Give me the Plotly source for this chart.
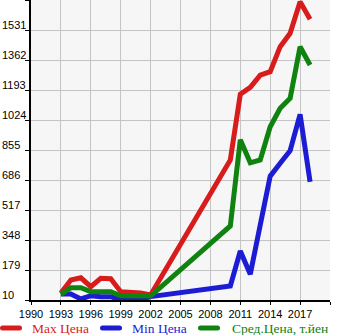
import plotly.graph_objects as go

# Years with listings and price series (thousand yen)
years = [1993, 1994, 1995, 1996, 1997, 1998, 1999, 2000, 2001, 2002,
         2010, 2011, 2012, 2013, 2014, 2015, 2016, 2017, 2018]
max_price = [50, 123, 135, 85, 132, 130, 57, 53, 50, 38,
             799, 1169, 1208, 1277, 1296, 1437, 1512, 1690, 1591]
min_price = [44, 44, 16, 34, 29, 29, 10, 10, 10, 29,
             89, 286, 155, 432, 708, 780, 851, 1056, 676]
avg_price = [42, 79, 79, 57, 57, 57, 34, 34, 32, 32,
             427, 913, 783, 799, 986, 1090, 1146, 1437, 1334]

series_names = ["Max Цена", "Min Цена", "Сред.Цена, т.йен"]
series_colors = ["#d81c1c", "#1c1cd4", "#0f820f"]

x_tick_vals = [1990, 1993, 1996, 1999, 2002, 2005, 2008, 2011, 2014, 2017, 2020]
x_tick_text = ["1990", "1993", "1996", "1999", "2002", "2005", "2008",
               "2011", "2014", "2017", ""]
y_tick_vals = [10, 179, 348, 517, 686, 855, 1024, 1193, 1362, 1531, 1700]
y_tick_text = ["10", "179", "348", "517", "686", "855", "1024", "1193",
               "1362", "1531", ""]

W, H = 345, 335
ML, MR, MT, MB = 31, 15, 0, 35
PW, PH = W - ML - MR, H - MT - MB


def px_x(p):
    """Pixel column -> paper x."""
    return (p - ML) / PW


def px_y(p):
    """Pixel row -> paper y."""
    return (H - MB - p) / PH


fig = go.Figure()
for name, vals, color in zip(series_names, [max_price, min_price, avg_price],
                             series_colors):
    fig.add_trace(go.Scatter(
        x=years, y=vals, mode="lines", name=name,
        line=dict(color=color, width=5),
    ))

fig.update_layout(
    width=W, height=H,
    margin=dict(l=ML, r=MR, t=MT, b=MB),
    paper_bgcolor="white",
    plot_bgcolor="#f6f6f6",
    showlegend=False,
    xaxis=dict(
        range=[1990, 2020],
        tickvals=x_tick_vals, ticktext=x_tick_text,
        showgrid=True, gridcolor="#c4c4c4", gridwidth=1,
        showline=True, linecolor="black", linewidth=2,
        ticks="outside", ticklen=3, tickcolor="black", tickwidth=1,
        tickfont=dict(family="Liberation Sans", size=11, color="black"),
        zeroline=False, fixedrange=True,
    ),
    yaxis=dict(
        range=[10, 1700],
        tickvals=y_tick_vals, ticktext=[""] * len(y_tick_vals),
        showgrid=True, gridcolor="#c4c4c4", gridwidth=1,
        showline=True, linecolor="black", linewidth=2,
        ticks="outside", ticklen=4, tickcolor="black", tickwidth=1,
        zeroline=False, fixedrange=True,
    ),
)

# Left-aligned value labels sitting on their gridlines
for v, t in zip(y_tick_vals, y_tick_text):
    if not t:
        continue
    fig.add_annotation(
        xref="paper", x=0, xshift=-ML, xanchor="left",
        yref="y", y=v, yanchor="bottom", yshift=-3,
        text=t, showarrow=False,
        font=dict(family="Liberation Sans", size=11, color="black"),
    )

# Legend row along the bottom: rounded swatch + coloured label
legend_swatch_x = [0, 100, 198]
legend_text_x = [30, 130, 230]
legend_row_y = 328
swatch_len, swatch_h = 22, 5
for name, color, sx, tx in zip(series_names, series_colors,
                               legend_swatch_x, legend_text_x):
    r = swatch_h / 2
    x0, x1 = sx, sx + swatch_len
    y0, y1 = legend_row_y - r, legend_row_y + r
    path = (
        f"M{px_x(x0 + r)},{px_y(y0)} L{px_x(x1 - r)},{px_y(y0)} "
        f"Q{px_x(x1)},{px_y(y0)} {px_x(x1)},{px_y(legend_row_y)} "
        f"Q{px_x(x1)},{px_y(y1)} {px_x(x1 - r)},{px_y(y1)} "
        f"L{px_x(x0 + r)},{px_y(y1)} "
        f"Q{px_x(x0)},{px_y(y1)} {px_x(x0)},{px_y(legend_row_y)} "
        f"Q{px_x(x0)},{px_y(y0)} {px_x(x0 + r)},{px_y(y0)} Z"
    )
    fig.add_shape(type="path", xref="paper", yref="paper", path=path,
                  fillcolor=color, line=dict(width=0), layer="above")
    fig.add_annotation(
        xref="paper", yref="paper", x=px_x(tx), y=px_y(legend_row_y),
        xanchor="left", yanchor="middle", text=name, showarrow=False,
        font=dict(family="Liberation Serif", size=13.5, color=color),
    )

fig.write_html("out.html")
